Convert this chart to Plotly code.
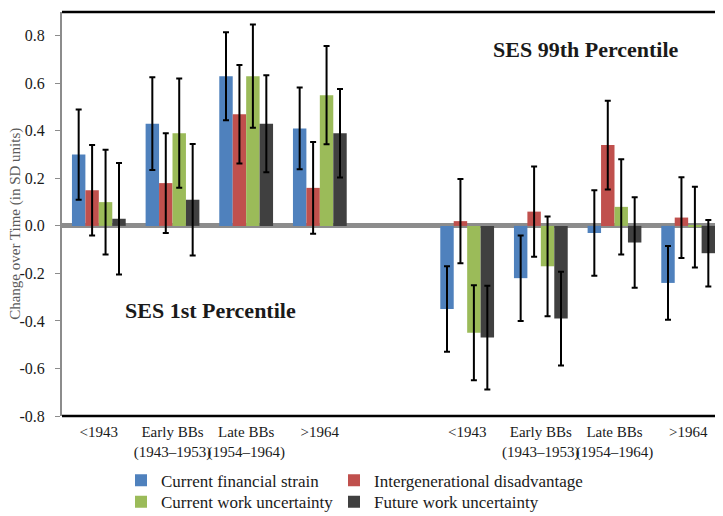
import plotly.graph_objects as go

categories = ["<1943", "Early BBs<br>(1943–1953)", "Late BBs<br>(1954–1964)", ">1964", "",
              "<1943", "Early BBs<br>(1943–1953)", "Late BBs<br>(1954–1964)", ">1964"]
x_pos = list(range(len(categories)))

series_names = ["Current financial strain", "Intergenerational disadvantage",
                "Current work uncertainty", "Future work uncertainty"]
series_colors = ["#4F81BD", "#C0504D", "#9BBB59", "#404040"]

fin_strain = [0.30, 0.43, 0.63, 0.41, None, -0.35, -0.22, -0.03, -0.24]
fin_strain_err = [0.19, 0.195, 0.185, 0.172, None, 0.18, 0.18, 0.18, 0.155]
intergen = [0.15, 0.18, 0.47, 0.16, None, 0.02, 0.06, 0.34, 0.035]
intergen_err = [0.19, 0.21, 0.207, 0.193, None, 0.177, 0.19, 0.187, 0.17]
work_unc = [0.10, 0.39, 0.63, 0.55, None, -0.45, -0.17, 0.08, -0.005]
work_unc_err = [0.22, 0.23, 0.217, 0.207, None, 0.2, 0.21, 0.2, 0.17]
future_unc = [0.03, 0.11, 0.43, 0.39, None, -0.47, -0.39, -0.07, -0.115]
future_unc_err = [0.235, 0.235, 0.204, 0.186, None, 0.218, 0.197, 0.19, 0.14]

y_tickvals = [-0.8, -0.6, -0.4, -0.2, 0.0, 0.2, 0.4, 0.6, 0.8]
y_ticktext = ["-0.8", "-0.6", "-0.4", "-0.2", "0.0", "0.2", "0.4", "0.6", "0.8"]

FONT = "Liberation Serif"
TXT = "#1a1a1a"

# plot area in pixels
L, R, T, B = 54, 717, 4, 416
W, H = R - L, B - T


def px_to_paper(px, py):
    return (px - L) / W, (B - py) / H


values = [fin_strain, intergen, work_unc, future_unc]
errors = [fin_strain_err, intergen_err, work_unc_err, future_unc_err]
legend_ids = ["legend", "legend2", "legend3", "legend4"]
# legend text start (px) and row centre (px)
legend_pos = [(162, 482), (375, 482), (162, 504), (375, 504)]

fig = go.Figure()
for name, col, vals, errs, lg in zip(series_names, series_colors, values, errors, legend_ids):
    fig.add_trace(go.Bar(
        x=x_pos, y=vals, name=name, legend=lg,
        marker=dict(color=col, line=dict(width=0)),
        error_y=dict(type="data", array=errs, visible=True, color="black",
                     thickness=2, width=3),
    ))

legend_layouts = {}
for lg, (tx, ty) in zip(legend_ids, legend_pos):
    xp, yp = px_to_paper(tx - 49, ty)
    legend_layouts[lg] = dict(
        orientation="h", x=xp, xanchor="left", y=yp, yanchor="middle",
        font=dict(family=FONT, size=17, color=TXT), bgcolor="rgba(0,0,0,0)",
        itemwidth=30, borderwidth=0)

ax, ay = px_to_paper(578, 42)
bx, by = px_to_paper(202, 308)
tx_, ty_ = px_to_paper(8, 220)

fig.update_layout(
    width=723, height=516,
    margin=dict(l=L, r=723 - R, t=T, b=516 - B),
    paper_bgcolor="white", plot_bgcolor="white",
    barmode="group", bargap=0.27, bargroupgap=0,
    font=dict(family=FONT, size=15, color=TXT),
    xaxis=dict(range=[-0.5, 8.5], tickmode="array", tickvals=x_pos, ticktext=categories,
               tickangle=0, automargin=False, ticklabelstandoff=5,
               showgrid=False, zeroline=False, showline=False, ticks="",
               tickfont=dict(family=FONT, size=15, color=TXT)),
    yaxis=dict(range=[-0.8, 0.9], tickmode="array", tickvals=y_tickvals, ticktext=y_ticktext,
               showgrid=False, zeroline=True, zerolinecolor="#8c8c8c", zerolinewidth=5,
               showline=True, linecolor="#8c8c8c", linewidth=2,
               ticks="outside", ticklen=5, tickcolor="#8c8c8c", tickwidth=1,
               ticklabelstandoff=7,
               tickfont=dict(family=FONT, size=16, color=TXT),
               automargin=False),
    showlegend=True,
    annotations=[
        dict(text="<b>SES 99th Percentile</b>", x=ax, y=ay, xref="paper", yref="paper",
             xanchor="center", yanchor="middle", showarrow=False,
             font=dict(family=FONT, size=22, color=TXT)),
        dict(text="<b>SES 1st Percentile</b>", x=bx, y=by, xref="paper", yref="paper",
             xanchor="center", yanchor="middle", showarrow=False,
             font=dict(family=FONT, size=22, color=TXT)),
        dict(text="Change over Time (in SD units)", x=tx_, y=ty_, xref="paper", yref="paper",
             xanchor="center", yanchor="middle", textangle=-90, showarrow=False,
             font=dict(family=FONT, size=15, color="#595959")),
    ],
    shapes=[
        dict(type="line", xref="paper", yref="paper", x0=0, x1=1, y0=1, y1=1,
             line=dict(color="black", width=2.5)),
        dict(type="line", xref="paper", yref="paper", x0=1, x1=1, y0=0, y1=1,
             line=dict(color="black", width=2)),
        dict(type="line", xref="paper", yref="paper", x0=0, x1=1, y0=0, y1=0,
             line=dict(color="black", width=2.5)),
    ],
    **legend_layouts,
)

fig.write_html("out.html")
